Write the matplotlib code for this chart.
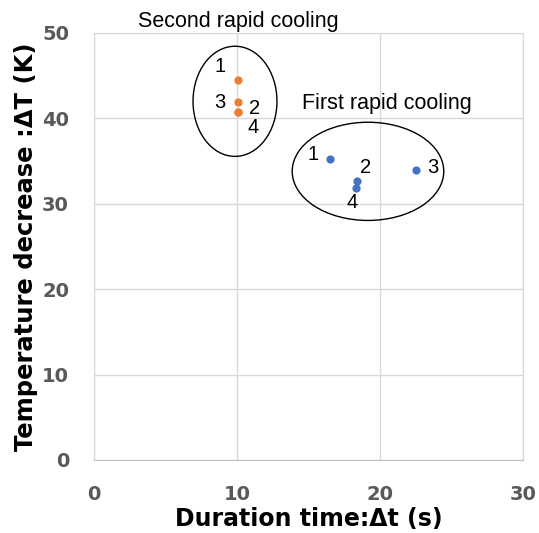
import matplotlib
matplotlib.use("Agg")
import matplotlib.pyplot as plt
from matplotlib.patches import Ellipse

# first rapid cooling (blue)
first_t = [16.5, 18.4, 22.5, 18.3]
first_dT = [35.3, 32.7, 34.0, 31.8]
# second rapid cooling (orange)
second_t = [10.05, 10.05, 10.05, 10.05]
second_dT = [44.5, 40.8, 41.9, 40.8]
point_ids = ["1", "2", "3", "4"]

x_ticks = [0, 10, 20, 30]
y_ticks = [0, 10, 20, 30, 40, 50]

fig = plt.figure(figsize=(5.39, 5.33), dpi=100)
ax = fig.add_axes([0.1744, 0.137, 0.7959, 0.8011])

ax.scatter(second_t, second_dT, s=24, color="#ED7D31", zorder=3)
ax.scatter(first_t, first_dT, s=24, color="#4472C4", zorder=3)

lab = dict(fontsize=14.5, family="Liberation Sans", ha="center", va="center")
# labels for second group
ax.text(8.8, 46.1, point_ids[0], **lab)
ax.text(8.8, 41.9, point_ids[2], **lab)
ax.text(11.2, 41.1, point_ids[1], **lab)
ax.text(11.1, 38.9, point_ids[3], **lab)
# labels for first group
ax.text(15.3, 35.8, point_ids[0], **lab)
ax.text(19.0, 34.3, point_ids[1], **lab)
ax.text(23.7, 34.2, point_ids[2], **lab)
ax.text(18.05, 30.1, point_ids[3], **lab)

ax.add_patch(Ellipse((9.86, 42.0), 5.87, 12.9, fill=False, ec="black", lw=1.0))
ax.add_patch(Ellipse((19.16, 33.8), 10.6, 11.5, fill=False, ec="black", lw=1.0))

ax.text(10.1, 51.3, "Second rapid cooling", fontsize=15.5, family="Liberation Sans",
        ha="center", va="center", clip_on=False)
ax.text(20.5, 41.7, "First rapid cooling", fontsize=15.5, family="Liberation Sans",
        ha="center", va="center")

ax.set_xlim(0, 30)
ax.set_ylim(0, 50)
ax.set_xticks(x_ticks)
ax.set_yticks(y_ticks)
ax.tick_params(length=0, labelsize=14, labelcolor="#595959", pad=18)
for t in ax.get_xticklabels() + ax.get_yticklabels():
    t.set_fontweight("bold")
ax.grid(True, color="#d9d9d9", lw=1.0)
ax.set_axisbelow(True)
for s in ax.spines.values():
    s.set_color("#d9d9d9")
ax.spines["bottom"].set_color("#bfbfbf")

ax.set_xlabel("Duration time:Δt (s)", fontsize=17, fontweight="bold", labelpad=2)
ax.set_ylabel("Temperature decrease :ΔT (K)", fontsize=17.5, fontweight="bold", labelpad=3)

fig.savefig("out.png", dpi=100)
